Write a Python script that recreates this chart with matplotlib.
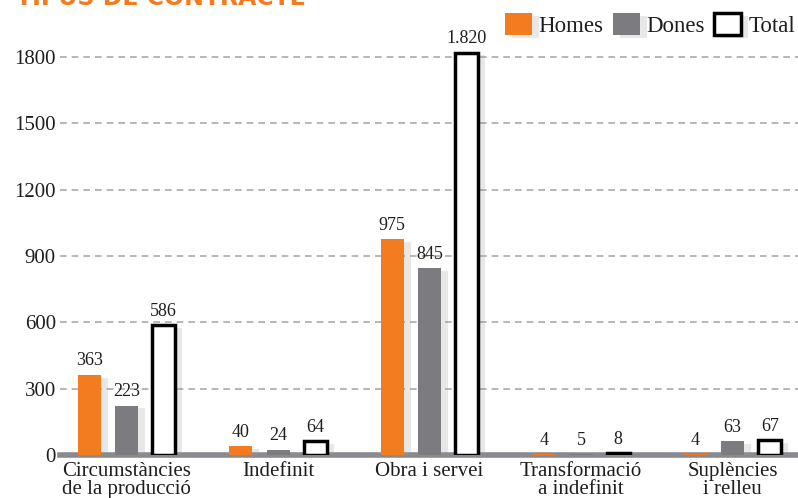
import matplotlib.pyplot as plt
import matplotlib.patheffects as pe
import numpy as np

# Dades
categories = ["Circumstàncies\nde la producció", "Indefinit", "Obra i servei",
              "Transformació\na indefinit", "Suplències\ni relleu"]
homes = [363, 40, 975, 4, 4]
dones = [223, 24, 845, 5, 63]
total = [586, 64, 1820, 8, 67]
etiquetes_total = ["586", "64", "1.820", "8", "67"]
yticks = [0, 300, 600, 900, 1200, 1500, 1800]

taronja = "#F37C20"
gris = "#7B7B80"
serif = "Liberation Serif"
text_col = "#1E1E1E"

fig = plt.figure(figsize=(7.98, 4.98), dpi=100)
ax = fig.add_axes([60 / 798, 43 / 498, 1 - 60 / 798, 455 / 498])

x = np.arange(len(categories))
amp = 0.152
desp = 0.246
ombra = [pe.SimplePatchShadow(offset=(5, -2), shadow_rgbFace="#999999", alpha=0.22), pe.Normal()]

b1 = ax.bar(x - desp, homes, amp, color=taronja, zorder=3, label="Homes")
b2 = ax.bar(x, dones, amp, color=gris, zorder=3, label="Dones")
b3 = ax.bar(x + desp, total, amp, color="white", edgecolor="black", linewidth=2.5,
            zorder=3, label="Total")
for barres in (b1, b2, b3):
    for b in barres:
        if b.get_height() > 20:
            b.set_path_effects(ombra)

for xs, vals, labs in ((x - desp, homes, [str(v) for v in homes]),
                       (x, dones, [str(v) for v in dones]),
                       (x + desp, total, etiquetes_total)):
    for xi, v, t in zip(xs, vals, labs):
        ax.text(xi, v + 24, t, ha="center", va="bottom", fontsize=13,
                family=serif, color=text_col, zorder=5)

ax.set_xlim(-0.439, 4.432)
ax.set_ylim(0, 2058)
ax.set_yticks(yticks)
ax.set_yticklabels([str(v) for v in yticks], family=serif, fontsize=15, color=text_col)
ax.tick_params(axis="y", length=0, pad=3)
ax.set_xticks(x)
ax.set_xticklabels(categories, family=serif, fontsize=15, color=text_col, linespacing=0.9)
ax.tick_params(axis="x", length=0, pad=5)
for s in ax.spines.values():
    s.set_visible(False)
ax.yaxis.grid(True, color="#AAAAAA", linestyle=(0, (4, 3)), linewidth=1.2, zorder=0)
ax.axhline(0, color="#8A8A8E", linewidth=4, zorder=2, clip_on=False)

leg = ax.legend(loc="upper right", bbox_to_anchor=(1 - 3 / 798, 1 - 13 / 498),
                bbox_transform=fig.transFigure,
                ncol=3, frameon=False, prop={"family": serif, "size": 16.5},
                handlelength=1.18, handleheight=1.1, handletextpad=0.3, columnspacing=0.4,
                borderaxespad=0, borderpad=0)
for t in leg.get_texts():
    t.set_color(text_col)

fig.text(0.02, 1 - 5 / 498, "TIPUS DE CONTRACTE", color=taronja, fontsize=17,
         fontweight="bold", va="baseline", family="DejaVu Sans")

fig.savefig("out.png", dpi=100)
